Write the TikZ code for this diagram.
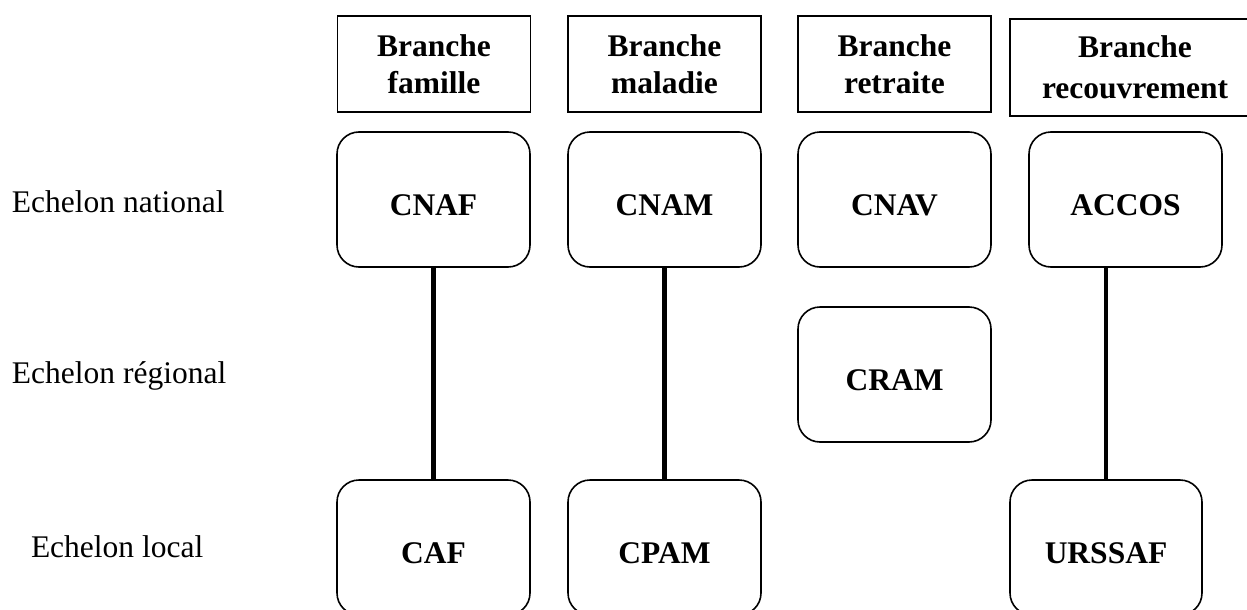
\documentclass[tikz,border=0pt]{standalone}
\usepackage{fontspec}
\setmainfont{Liberation Serif}
\begin{document}
\begin{tikzpicture}[x=1pt,y=-1pt,
  every node/.style={inner sep=0pt,outer sep=0pt},
  hdr/.style={draw,line width=1.6pt,minimum width=193pt,minimum height=96pt,align=center,
    font=\fontsize{31.5}{37}\selectfont\bfseries},
  org/.style={draw,line width=1.6pt,rounded corners=22pt,minimum width=193pt,minimum height=135pt,
    text height=32pt,text depth=0pt,font=\fontsize{31.5}{37}\selectfont\bfseries},
  lvl/.style={anchor=base west,font=\fontsize{31.5}{37}\selectfont},
  link/.style={line width=4.5pt}]
\useasboundingbox (0,0) rectangle (1247,610);
\clip (0,0) rectangle (1247,610);
% headers
\node[hdr] (hfam) at (434,64) {Branche\\famille};
\node[hdr] (hmal) at (664.5,64) {Branche\\maladie};
\node[hdr] (hret) at (894.5,64) {Branche\\retraite};
\node[hdr,minimum width=250pt,minimum height=97pt,font=\fontsize{31.5}{41}\selectfont\bfseries] (hrec) at (1135,67.5) {Branche\\recouvrement};
% level labels
\node[lvl] (lnat) at (12,212) {Echelon national};
\node[lvl] (lreg) at (12,383) {Echelon régional};
\node[lvl] (lloc) at (31,557) {Echelon local};
% national
\node[org] (cnaf) at (433.5,199.5) {CNAF};
\node[org] (cnam) at (664.5,199.5) {CNAM};
\node[org] (cnav) at (894.5,199.5) {CNAV};
\node[org] (accos) at (1125.5,199.5) {ACCOS};
% regional
\node[org] (cram) at (894.5,374.5) {CRAM};
% local
\node[org] (caf) at (433.5,547.5) {CAF};
\node[org] (cpam) at (664.5,547.5) {CPAM};
\node[org,minimum width=192pt] (urssaf) at (1106,547.5) {URSSAF};
% links
\draw[link] (cnaf.south) -- (caf.north);
\draw[link] (cnam.south) -- (cpam.north);
\draw[link] (urssaf.north) -- (urssaf.north |- accos.south);
\end{tikzpicture}
\end{document}
